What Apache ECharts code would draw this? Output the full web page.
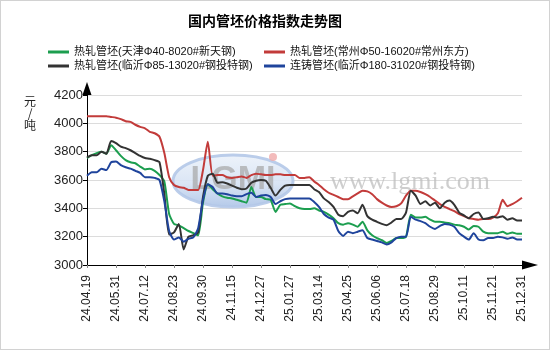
<!DOCTYPE html>
<html>
<head>
<meta charset="utf-8">
<script src="https://cdn.jsdelivr.net/npm/echarts/dist/echarts.min.js"></script>
<style>
  html, body { margin: 0; padding: 0; background: #fff; }
  #wrap { position: relative; width: 550px; height: 350px; }
  #chart { width: 550px; height: 350px; }
  #frame { position: absolute; left: 0; top: 0; width: 550px; height: 350px;
           box-sizing: border-box; border: 1px solid #d2d2d2; pointer-events: none; }
</style>
</head>
<body>
<div id="wrap"><div id="chart"></div><div id="frame"></div></div>
<script>
// Weekly observation dates (yy.mm.dd)
const dates = ['24.04.19','24.04.26','24.04.30','24.05.10','24.05.17','24.05.24','24.05.31','24.06.07','24.06.14','24.06.21',
  '24.06.28','24.07.05','24.07.12','24.07.19','24.07.26','24.08.02','24.08.09','24.08.16','24.08.23','24.08.30',
  '24.09.06','24.09.13','24.09.20','24.09.27','24.09.30','24.10.11','24.10.18','24.10.25','24.11.01','24.11.08',
  '24.11.15','24.11.22','24.11.29','24.12.06','24.12.13','24.12.20','24.12.27','25.01.03','25.01.10','25.01.17',
  '25.01.22','25.01.24','25.01.27','25.02.07','25.02.14','25.02.21','25.02.28','25.03.07','25.03.14','25.03.21',
  '25.03.28','25.04.03','25.04.11','25.04.18','25.04.25','25.04.30','25.05.09','25.05.16','25.05.23','25.05.30',
  '25.06.06','25.06.13','25.06.20','25.06.27','25.07.04','25.07.11','25.07.18','25.07.25','25.08.01','25.08.08',
  '25.08.15','25.08.22','25.08.29','25.09.05','25.09.12','25.09.19','25.09.26','25.09.30','25.10.11','25.10.17',
  '25.10.24','25.10.31','25.11.07','25.11.14','25.11.21','25.11.28','25.12.05','25.12.12','25.12.19','25.12.26',
  '25.12.31'];

const seriesNames = [
  '热轧管坯(天津Φ40-8020#新天钢)',
  '热轧管坯(常州Φ50-16020#常州东方)',
  '热轧管坯(临沂Φ85-13020#钢投特钢)',
  '连铸管坯(临沂Φ180-31020#钢投特钢)'
];

// 元/吨
const tianjin = [3755,3775,3790,3800,3785,3845,3810,3770,3740,3725,
  3718,3695,3675,3680,3665,3635,3590,3360,3290,3280,
  3260,3240,3225,3210,3440,3570,3535,3505,3485,3475,
  3470,3460,3450,3440,3550,3480,3480,3465,3460,3375,
  3425,3430,3435,3415,3400,3395,3395,3400,3385,3375,
  3355,3330,3295,3285,3295,3285,3270,3305,3245,3210,
  3190,3175,3155,3170,3190,3190,3200,3355,3335,3335,
  3340,3320,3305,3305,3300,3295,3285,3280,3270,3250,
  3275,3270,3235,3225,3225,3225,3235,3220,3230,3220,
  3220];

const changzhou = [4050,4050,4050,4050,4050,4045,4040,4030,4015,4010,
  3990,3975,3965,3940,3930,3905,3790,3620,3565,3550,
  3545,3530,3530,3530,3670,3870,3630,3635,3635,3620,
  3615,3620,3625,3615,3635,3645,3640,3635,3635,3640,
  3640,3635,3635,3635,3615,3615,3620,3590,3565,3535,
  3510,3495,3480,3465,3465,3485,3505,3525,3520,3500,
  3465,3440,3420,3410,3415,3435,3490,3525,3525,3515,
  3500,3480,3455,3430,3410,3395,3380,3360,3345,3330,
  3325,3320,3325,3325,3335,3365,3460,3415,3430,3450,
  3475];

const linyiRolled = [3760,3775,3775,3800,3785,3875,3860,3835,3825,3810,
  3790,3770,3755,3750,3740,3725,3500,3215,3230,3290,
  3110,3200,3210,3230,3480,3630,3645,3580,3585,3575,
  3560,3545,3535,3540,3580,3595,3600,3595,3545,3490,
  3530,3560,3565,3565,3565,3565,3565,3535,3515,3470,
  3445,3410,3355,3345,3375,3385,3365,3425,3345,3320,
  3305,3290,3280,3300,3325,3325,3370,3525,3490,3430,
  3450,3420,3440,3400,3440,3455,3425,3370,3350,3330,
  3360,3370,3325,3330,3340,3335,3345,3320,3330,3315,
  3315];

const linyiCast = [3630,3655,3655,3680,3670,3725,3730,3705,3690,3680,
  3665,3650,3620,3620,3615,3600,3450,3240,3180,3195,
  3165,3185,3195,3260,3460,3570,3550,3505,3505,3500,
  3490,3485,3485,3500,3510,3480,3490,3495,3480,3430,
  3450,3465,3470,3470,3470,3470,3470,3445,3410,3360,
  3335,3320,3240,3205,3235,3225,3235,3245,3190,3180,
  3170,3160,3145,3160,3190,3200,3200,3340,3320,3310,
  3295,3270,3255,3275,3290,3285,3270,3225,3200,3180,
  3225,3180,3175,3190,3190,3200,3195,3185,3195,3180,
  3180];

const yMin = 3000, yMax = 4200, yStep = 200;

const colors = ['#1c9e4f', '#c23b3a', '#333333', '#1f449c'];
const latinCjk = '"Liberation Sans", "Noto Sans CJK SC", sans-serif';

const chart = echarts.init(document.getElementById('chart'), null, { renderer: 'canvas' });

function lineSeries(name, data, color) {
  return {
    name: name, type: 'line', data: data,
    showSymbol: false, smooth: 0.2, z: 3,
    lineStyle: { color: color, width: 2 },
    itemStyle: { color: color }
  };
}

const legendText = { fontSize: 11, lineHeight: 14, color: '#111', fontFamily: latinCjk };

chart.setOption({
  animation: false,
  backgroundColor: '#ffffff',
  title: {
    text: '国内管坯价格指数走势图', left: 183, top: 9,
    textStyle: { fontSize: 14, fontWeight: 'bold', color: '#000', fontFamily: '"Noto Sans CJK SC", sans-serif' }
  },
  legend: [
    { orient: 'vertical', left: 43, top: 40, itemGap: 0, itemWidth: 21, itemHeight: 3, icon: 'rect',
      data: [seriesNames[0], seriesNames[2]], textStyle: legendText },
    { orient: 'vertical', left: 259, top: 40, itemGap: 0, itemWidth: 21, itemHeight: 3, icon: 'rect',
      data: [seriesNames[1], seriesNames[3]], textStyle: legendText }
  ],
  grid: { left: 87, right: 28, top: 95, bottom: 85, containLabel: false },
  xAxis: {
    type: 'category', data: dates, boundaryGap: false,
    axisLine: { show: true, symbol: ['none', 'triangle'], symbolSize: [9, 16], symbolOffset: [0, 8],
                lineStyle: { color: '#000', width: 1 } },
    axisTick: { show: true, interval: 5, length: 3, lineStyle: { color: '#888' } },
    axisLabel: { interval: 5, rotate: 90, fontSize: 12, margin: 10, color: '#222',
                 fontFamily: '"Liberation Sans", sans-serif' },
    splitLine: { show: false }
  },
  yAxis: {
    type: 'value', min: yMin, max: yMax, interval: yStep,
    axisLine: { show: true, symbol: ['none', 'triangle'], symbolSize: [9, 13], symbolOffset: [0, 6.5],
                lineStyle: { color: '#000', width: 1 } },
    axisTick: { show: true, length: 4, lineStyle: { color: '#000' } },
    axisLabel: { fontSize: 13, margin: 4, color: '#222', fontFamily: '"Liberation Sans", sans-serif',
                 formatter: function (v) { return String(v); } },
    splitLine: { show: true, lineStyle: { color: '#dcdcdc', width: 1 } }
  },
  graphic: [
    { type: 'text', x: 30, y: 95, silent: true,
      style: { text: '元\n/\n吨', fill: '#222', fontSize: 12, lineHeight: 12,
               fontFamily: '"Noto Sans CJK SC", sans-serif', align: 'center', verticalAlign: 'top' } },
    // site watermark behind the lines
    { type: 'ellipse', silent: true, z: 1,
      shape: { cx: 233, cy: 181, rx: 60, ry: 26 },
      style: { fill: new echarts.graphic.LinearGradient(0, 0, 0, 1, [
                 { offset: 0, color: 'rgba(236,242,250,0.9)' },
                 { offset: 0.55, color: 'rgba(214,226,244,0.9)' },
                 { offset: 1, color: 'rgba(170,194,230,0.9)' }]),
               stroke: 'rgba(180,200,232,0.9)', lineWidth: 3 } },
    { type: 'text', x: 233, y: 180, silent: true, z: 1,
      style: { text: 'LGMI', fill: 'rgba(165,165,165,0.7)', fontSize: 34, fontWeight: 'bold',
               fontFamily: '"Liberation Sans", sans-serif', align: 'center', verticalAlign: 'middle' } },
    { type: 'circle', silent: true, z: 1, shape: { cx: 273, cy: 157, r: 4 },
      style: { fill: 'rgba(240,170,170,0.8)' } },
    { type: 'text', x: 410, y: 182, silent: true, z: 1,
      style: { text: 'www.lgmi.com', fill: 'rgba(190,190,190,0.75)', fontSize: 26,
               fontFamily: '"Liberation Serif", serif', align: 'center', verticalAlign: 'middle' } }
  ],
  series: [
    lineSeries(seriesNames[0], tianjin, colors[0]),
    lineSeries(seriesNames[1], changzhou, colors[1]),
    lineSeries(seriesNames[2], linyiRolled, colors[2]),
    lineSeries(seriesNames[3], linyiCast, colors[3])
  ]
});
</script>
</body>
</html>
